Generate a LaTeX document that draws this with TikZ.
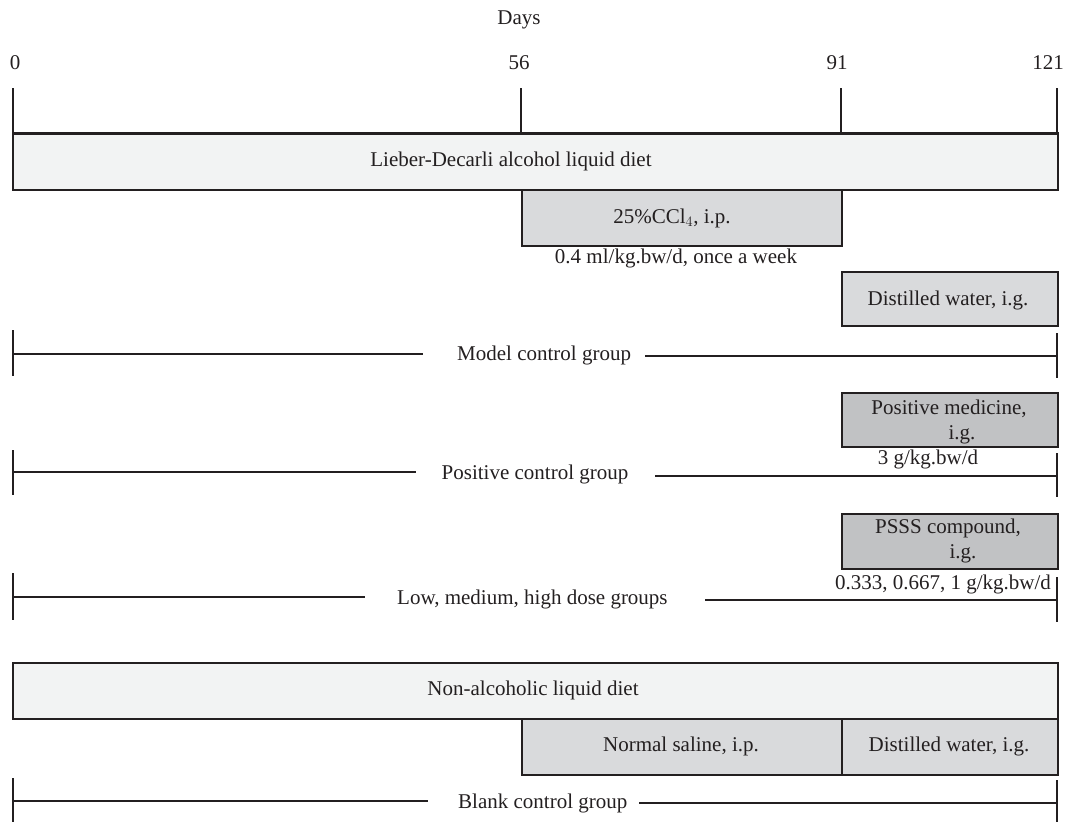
\documentclass[tikz,border=0pt]{standalone}
\usepackage{fontspec}
\setmainfont{Liberation Serif}
\definecolor{ink}{HTML}{231F20}
\definecolor{lightfill}{HTML}{F2F3F3}
\definecolor{midfill}{HTML}{D9DADC}
\definecolor{darkfill}{HTML}{C1C2C4}
\tikzset{
  bar/.style={draw=ink, line width=1.9pt, inner sep=0pt, anchor=north west},
  lbar/.style={bar, fill=lightfill},
  mbar/.style={bar, fill=midfill},
  dbar/.style={bar, fill=darkfill},
  txt/.style={inner sep=0pt, text=ink, font=\fontsize{21}{25}\selectfont},
  tick/.style={draw=ink, line width=1.9pt},
  rule/.style={draw=ink, line width=1.9pt},
}
\begin{document}
\begin{tikzpicture}[x=1pt, y=-1pt]
\useasboundingbox (0,0) rectangle (1065,822);

% axis labels
\node[txt] (days) at (519,20) {Days};
\node[txt] (l0) at (15,63) {0};
\node[txt] (l56) at (519,63) {56};
\node[txt] (l91) at (837,63) {91};
\node[txt] (l121) at (1048,63) {121};

% bars
\node[lbar, minimum width=1045pt, minimum height=56pt] (diet) at (12,133) {};
\node[mbar, minimum width=320pt, minimum height=56pt] (ccl) at (521,189) {};
\node[mbar, minimum width=216pt, minimum height=54pt] (dw1) at (841,271) {};
\node[dbar, minimum width=216pt, minimum height=54pt] (pm) at (841,392) {};
\node[dbar, minimum width=216pt, minimum height=55pt] (psss) at (841,513) {};
\node[lbar, minimum width=1045pt, minimum height=56pt] (nadiet) at (12,662) {};
\node[mbar, minimum width=320pt, minimum height=56pt] (ns) at (521,718) {};
\node[mbar, minimum width=216pt, minimum height=56pt] (dw2) at (841,718) {};
\draw[ink, line width=2.6pt] (diet.north west) -- (diet.north east);

% day ticks
\coordinate (t0) at (13,88);
\coordinate (t56) at (521,88);
\coordinate (t91) at (841,88);
\coordinate (t121) at (1057,88);
\draw[tick] (t0) -- (t0 |- diet.north);
\draw[tick] (t56) -- (t56 |- diet.north);
\draw[tick] (t91) -- (t91 |- diet.north);
\draw[tick] (t121) -- (t121 |- diet.north);

% bar labels
\node[txt] (dietL) at (511,161) {Lieber-Decarli alcohol liquid diet};
\node[txt] (cclL) at (672,218) {25\%CCl$_4$, i.p.};
\node[txt] (cclD) at (676,258) {0.4 ml/kg.bw/d, once a week};
\node[txt] (dw1L) at (948,300) {Distilled water, i.g.};
\node[txt, align=center] (pmL) at (949,422) {Positive medicine,\\\hspace*{26pt}i.g.};
\node[txt] (pmD) at (928,459) {3 g/kg.bw/d};
\node[txt, align=center] (psssL) at (948,541) {PSSS compound,\\\hspace*{30pt}i.g.};
\node[txt] (psssD) at (943,584) {0.333, 0.667, 1 g/kg.bw/d};
\node[txt] (nadietL) at (533,690) {Non-alcoholic liquid diet};
\node[txt] (nsL) at (681,746) {Normal saline, i.p.};
\node[txt] (dw2L) at (949,746) {Distilled water, i.g.};

% group lines
\node[txt, anchor=west] (model) at (457,355) {Model control group};
\coordinate (mA) at (13,330); \coordinate (mB) at (13,376);
\coordinate (mC) at (1057,333); \coordinate (mD) at (1057,378);
\coordinate (mL) at (423,354); \coordinate (mR) at (645,356);
\draw[tick] (mA) -- (mB);
\draw[tick] (mC) -- (mD);
\draw[rule] (mA |- mL) -- (mL);
\draw[rule] (mR) -- (mR -| mC);

\node[txt] (pos) at (535,474) {Positive control group};
\coordinate (pA) at (13,450); \coordinate (pB) at (13,495);
\coordinate (pC) at (1057,453); \coordinate (pD) at (1057,497);
\coordinate (pL) at (416,472); \coordinate (pR) at (655,476);
\draw[tick] (pA) -- (pB);
\draw[tick] (pC) -- (pD);
\draw[rule] (pA |- pL) -- (pL);
\draw[rule] (pR) -- (pR -| pC);

\node[txt, anchor=west] (low) at (397,599) {Low, medium, high dose groups};
\coordinate (lA) at (13,573); \coordinate (lB) at (13,620);
\coordinate (lC) at (1057,577); \coordinate (lD) at (1057,622);
\coordinate (lL) at (365,597); \coordinate (lR) at (705,600);
\draw[tick] (lA) -- (lB);
\draw[tick] (lC) -- (lD);
\draw[rule] (lA |- lL) -- (lL);
\draw[rule] (lR) -- (lR -| lC);

\node[txt, anchor=west] (blank) at (458,803) {Blank control group};
\coordinate (bA) at (13,778); \coordinate (bB) at (13,822);
\coordinate (bC) at (1057,780); \coordinate (bD) at (1057,822);
\coordinate (bL) at (428,801); \coordinate (bR) at (639,803);
\draw[tick] (bA) -- (bB);
\draw[tick] (bC) -- (bD);
\draw[rule] (bA |- bL) -- (bL);
\draw[rule] (bR) -- (bR -| bC);
\end{tikzpicture}
\end{document}
